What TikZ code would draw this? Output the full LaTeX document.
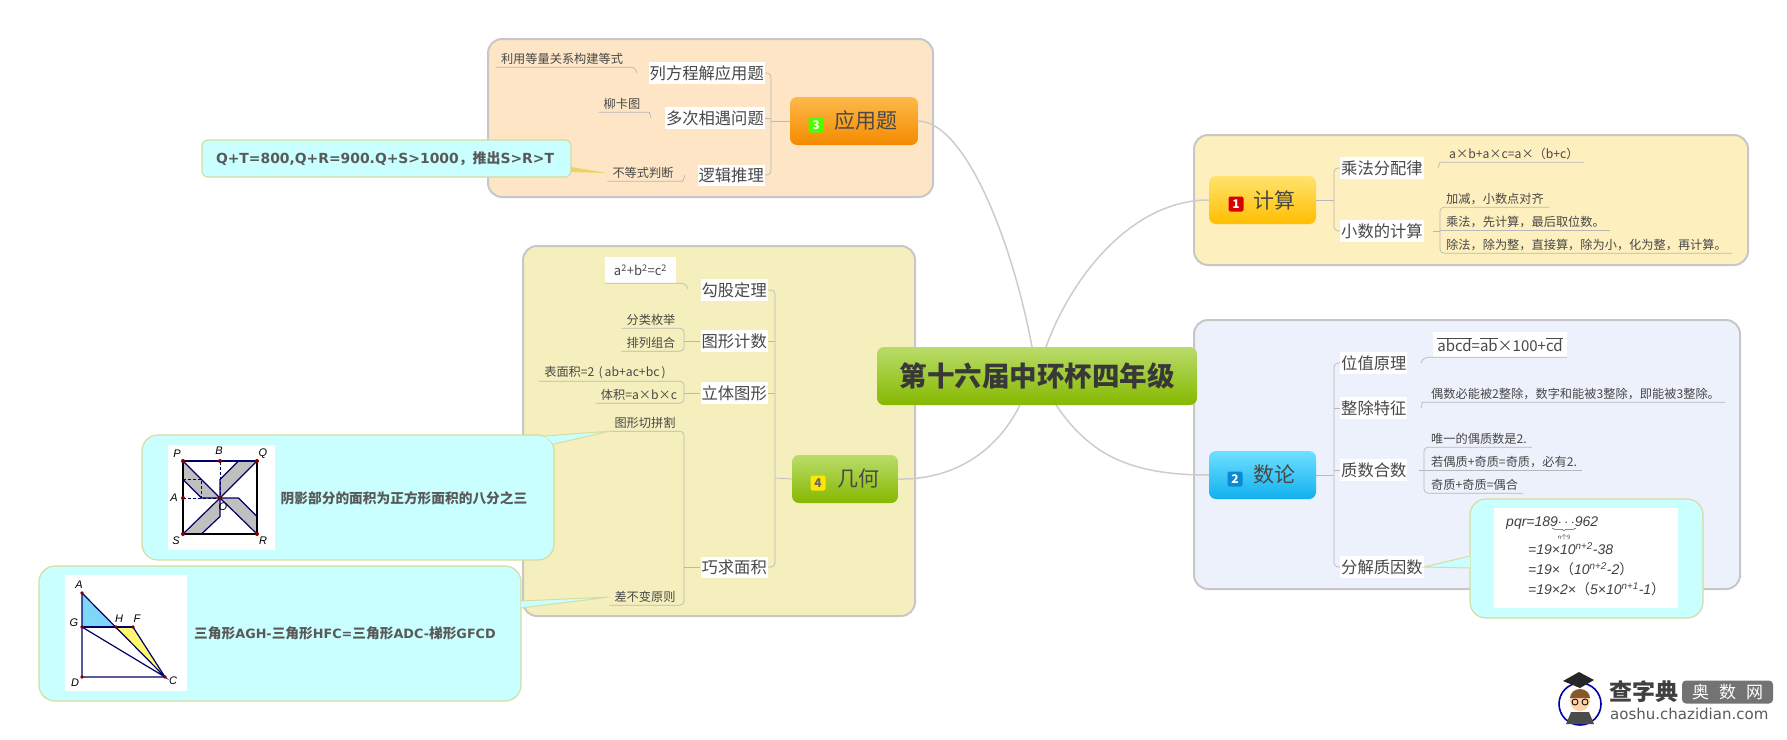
\documentclass[tikz,border=0pt]{standalone}
\usepackage{fontspec}
\setmainfont{Noto Sans CJK SC}
\newfontfamily\dvfont{DejaVu Sans}
\newfontfamily\libfont{Liberation Sans}
\usetikzlibrary{positioning,decorations.pathreplacing}
\definecolor{zoneApp}{HTML}{FDE5C6}
\definecolor{zoneGeo}{HTML}{F5EFBD}
\definecolor{zoneCalc}{HTML}{FDEFBE}
\definecolor{zoneNum}{HTML}{EDF1FC}
\definecolor{noteFill}{HTML}{C9FFFE}
\definecolor{noteLine}{HTML}{D5DDA0}
\definecolor{inkA}{HTML}{484848}
\definecolor{greenTop}{HTML}{B9DC6A}
\definecolor{greenBot}{HTML}{86B800}
\definecolor{goldTop}{HTML}{FFE36E}
\definecolor{goldBot}{HTML}{FFBE00}
\definecolor{orngTop}{HTML}{FDB94A}
\definecolor{orngBot}{HTML}{F58A00}
\definecolor{blueTop}{HTML}{6FE0FF}
\definecolor{blueBot}{HTML}{10B0EE}
\newcommand{\sz}[1]{\fontsize{#1}{#1}\selectfont}
\tikzstyle{zone}=[rounded corners=14pt,draw=black!22,line width=2pt,inner sep=0pt]
\tikzstyle{note}=[rounded corners=16pt,draw=noteLine,fill=noteFill,line width=1.2pt,inner sep=0pt]
\tikzstyle{topic}=[rounded corners=7pt,inner sep=0pt,text=inkA,font=\sz{21}]
\tikzstyle{sub}=[fill=white,inner xsep=1pt,inner ysep=3pt,text=inkA,font=\sz{16.3}]
\tikzstyle{leaf}=[inner xsep=5pt,inner ysep=0pt,minimum height=16pt,text=inkA,font=\sz{12.2}]
\tikzstyle{badge}=[rounded corners=2pt,minimum size=15pt,inner sep=0pt,font=\sz{12}\bfseries]
\tikzstyle{limb}=[draw=black!20,line width=1.5pt]
\tikzstyle{twig}=[draw=black!28,line width=.7pt,rounded corners=4pt]
\tikzstyle{tail}=[draw=noteLine,fill=noteFill,line width=1pt]
\tikzstyle{noteText}=[inner sep=0pt,text=black!65,font=\sz{13.7}\bfseries]
\tikzstyle{figLab}=[inner sep=0pt,font=\sz{11}\itshape\libfont]
\tikzstyle{figLine}=[draw=blue!40!black,line width=1.2pt]
\tikzstyle{formula}=[inner sep=0pt,anchor=west,text=black!75,font=\sz{14}\itshape\libfont]
\begin{document}
\begin{tikzpicture}[x=1pt,y=-1pt]
\useasboundingbox (0,0) rectangle (1787,739);
% zones
\node[zone,fill=zoneApp,minimum width=445pt,minimum height=158pt] (zoneA) at (710.5,118) {};
\node[zone,fill=zoneGeo,minimum width=392pt,minimum height=370pt] (zoneG) at (719,431) {};
\node[zone,fill=zoneCalc,minimum width=554pt,minimum height=130pt] (zoneC) at (1471,200) {};
\node[zone,fill=zoneNum,minimum width=546pt,minimum height=269pt] (zoneN) at (1467,454.5) {};
% centre and main topics
\coordinate (inA) at (1032,347);
\coordinate (inC) at (1046,347);
\coordinate (inG) at (1020,405);
\coordinate (inN) at (1056,405);
\node[topic,top color=orngTop,bottom color=orngBot,minimum width=128pt,minimum height=48pt] (app) at (854,121) {\hspace{23pt}应用题};
\node[topic,top color=greenTop,bottom color=greenBot,minimum width=106pt,minimum height=48pt] (geo) at (845,479) {\hspace{26pt}几何};
\node[topic,top color=goldTop,bottom color=goldBot,minimum width=107pt,minimum height=48pt] (calc) at (1262.5,200) {\hspace{23pt}计算};
\node[topic,top color=blueTop,bottom color=blueBot,minimum width=107pt,minimum height=48pt] (num) at (1262.5,475) {\hspace{23pt}数论};
\draw[limb] (app.east) .. controls (965,122) and (1012,240) .. (inA);
\draw[limb] (calc.west) .. controls (1130,200) and (1070,280) .. (inC);
\draw[limb] (geo.east) .. controls (950,480) and (995,455) .. (inG);
\draw[limb] (num.west) .. controls (1130,475) and (1090,455) .. (inN);
\node[topic,font=\sz{27.5}\bfseries,text=black!78,top color=greenTop,bottom color=greenBot,minimum width=320pt,minimum height=58pt] (root) at (1037,376) {第十六届中环杯四年级};
\node[badge,fill=green!70!yellow,text=white] (bA) at (816,125) {3};
\node[badge,fill=yellow!90!orange,text=black!60] (bG) at (818,483) {4};
\node[badge,fill=red!85!black,text=white] (bC) at (1236,204) {1};
\node[badge,fill=cyan!70!blue,text=white] (bN) at (1235,479) {2};
% application
\node[sub,anchor=east] (eqn) at (765,73) {列方程解应用题};
\node[sub,anchor=east] (meet) at (765,118) {多次相遇问题};
\node[sub,anchor=east] (logic) at (765,175) {逻辑推理};
\coordinate (spA) at (771,121);
\draw[twig] (eqn.east) -- (eqn.east -| spA) -- (logic.east -| spA) -- (logic.east);
\draw[twig] (meet.east) -- (meet.east -| spA);
\draw[twig] (spA) -- (app.west);
\node[leaf] (eqnA) at (562,59) {利用等量关系构建等式};
\node[leaf] (meetA) at (622,104) {柳卡图};
\node[leaf] (logicA) at (643,173) {不等式判断};
\coordinate (kEqn) at (637,73);
\coordinate (kMeet) at (651,118);
\coordinate (kLogic) at (685,175);
\draw[twig] (eqnA.south west) -- (eqnA.south east) to[out=0,in=100] (kEqn);
\draw[twig] (meetA.south west) -- (meetA.south east) to[out=0,in=100] (kMeet);
\draw[twig] (logicA.south west) -- (logicA.south east) to[out=0,in=-100] (kLogic);
\node[note,rounded corners=6pt,minimum width=369pt,minimum height=37pt] (noteQ) at (386.5,158.5) {};
\node[noteText,font=\sz{13.9}\bfseries] (noteQt) at (385,158.5) {{\dvfont Q+T=800,Q+R=900.Q+S>1000}，推出{\dvfont S>R>T}};
\coordinate (tailQa) at (571,167);
\coordinate (tailQb) at (571,172);
\fill[yellow!55!brown!75] (tailQa) -- (logicA.west) -- (tailQb) -- cycle;
% geometry
\node[sub,anchor=east] (pyth) at (768,290) {勾股定理};
\node[sub,anchor=east] (cnt) at (768,341) {图形计数};
\node[sub,anchor=east] (solid) at (768,393) {立体图形};
\node[sub,anchor=east] (area) at (768,567) {巧求面积};
\coordinate (spG) at (775,478);
\draw[twig] (pyth.east) -- (pyth.east -| spG) -- (area.east -| spG) -- (area.east);
\draw[twig] (cnt.east) -- (cnt.east -| spG);
\draw[twig] (solid.east) -- (solid.east -| spG);
\draw[twig] (spG) -- (geo.west);
\node[fill=white,inner sep=0pt,minimum width=71pt,minimum height=26pt,text=inkA,font=\sz{13}] (pythA) at (640.5,270) {a\textsuperscript{2}+b\textsuperscript{2}=c\textsuperscript{2}};
\coordinate (kPyth) at (688,289);
\draw[twig] (pythA.south west) -- (pythA.south east) to[out=0,in=100] (kPyth);
\node[leaf] (cntA) at (651,320) {分类枚举};
\node[leaf] (cntB) at (651,343) {排列组合};
\coordinate (kCnt) at (684,341);
\draw[twig] (cntA.south west) -- (cntA.south east -| kCnt) -- (cntB.south east -| kCnt) -- (cntB.south west);
\draw[twig] (kCnt) -- (cnt.west);
\node[leaf] (solA) at (605,373) {表面积=2\,\,(\,ab+ac+bc\,)};
\node[leaf] (solB) at (639,395) {体积=a×b×c};
\coordinate (kSol) at (684,393);
\draw[twig] (solA.south west) -- (solA.south east -| kSol) -- (solB.south east -| kSol) -- (solB.south west);
\draw[twig] (kSol) -- (solid.west);
\node[leaf] (cut) at (645,423) {图形切拼割};
\node[leaf] (diff) at (645,597) {差不变原则};
\coordinate (kArea) at (684,567);
\draw[twig] (cut.south west) -- (cut.south east -| kArea) -- (diff.south east -| kArea) -- (diff.south west);
\draw[twig] (kArea) -- (area.west);
% pinwheel note
\node[note,minimum width=412pt,minimum height=125pt] (noteP) at (348,497.5) {};
\coordinate (tailPa) at (545,436);
\coordinate (tailPb) at (554,444);
\draw[tail] (tailPa) -- (cut.south west) -- (tailPb);
\node[fill=white,inner sep=0pt,minimum width=107pt,minimum height=105pt] (figP) at (221.5,497.5) {};
\fill[black!25] (183,461) -- (220,498) -- (201.5,498) -- (183,479.5) -- cycle;
\fill[black!25] (257,461) -- (220,498) -- (220,479.5) -- (238.5,461) -- cycle;
\fill[black!25] (257,534) -- (220,498) -- (238.5,498) -- (257,516.5) -- cycle;
\fill[black!25] (183,534) -- (220,498) -- (220,516.5) -- (201.5,534) -- cycle;
\draw[figLine,densely dashed,line width=.6pt] (183,498) -- (220,498) -- (220,461);
\draw[figLine,densely dashed,line width=.6pt] (183,479.5) -- (201.5,479.5) -- (201.5,498);
\draw[figLine,black] (183,461) rectangle (257,534);
\draw[figLine] (183,461) -- (257,461);
\draw[figLine] (183,461) -- (220,498) -- (201.5,498) -- (183,479.5);
\draw[figLine] (257,461) -- (220,498) -- (220,479.5) -- (238.5,461);
\draw[figLine] (257,534) -- (220,498) -- (238.5,498) -- (257,516.5);
\draw[figLine] (183,534) -- (220,498) -- (220,516.5) -- (201.5,534);
\foreach \px/\py in {183/461,220/461,257/461,183/498,220/498,183/534,257/534}
  \fill[red!50!black] (\px,\py) circle (2pt);
\node[figLab] (labP) at (177,454) {P};
\node[figLab] (labB) at (219,451) {B};
\node[figLab] (labQ) at (263,454) {Q};
\node[figLab] (labA) at (174,498) {A};
\node[figLab] (labO) at (223,507) {O};
\node[figLab] (labS) at (176,541) {S};
\node[figLab] (labR) at (263,541) {R};
\node[noteText] (notePt) at (404,498) {阴影部分的面积为正方形面积的八分之三};
% triangle note
\node[note,minimum width=482pt,minimum height=135pt] (noteT) at (280,633.5) {};
\coordinate (tailTa) at (521,601);
\coordinate (tailTb) at (521,608);
\draw[tail] (tailTa) -- (diff.west) -- (tailTb);
\node[fill=white,inner sep=0pt,minimum width=122pt,minimum height=116pt] (figT) at (126,633) {};
\fill[cyan!50] (82,593) -- (82,627) -- (116,627) -- cycle;
\fill[yellow!55] (116,627) -- (133,627) -- (165,677) -- cycle;
\draw[figLine] (82,593) -- (82,677) -- (165,677) -- (133,627);
\draw[figLine] (82,593) -- (165,677) -- (82,627);
\draw[figLine,line width=2pt] (82,627) -- (133,627);
\foreach \px/\py in {82/593,82/627,116/627,133/627,82/677,165/677}
  \fill[red!50!black] (\px,\py) circle (1.8pt);
\node[figLab] (labTa) at (79,585) {A};
\node[figLab] (labTg) at (74,623) {G};
\node[figLab] (labTh) at (119,619) {H};
\node[figLab] (labTf) at (137,619) {F};
\node[figLab] (labTd) at (75,683) {D};
\node[figLab] (labTc) at (173,681) {C};
\node[noteText] (noteTt) at (345,633) {三角形{\dvfont\sz{12.8}AGH-}三角形{\dvfont\sz{12.8}HFC=}三角形{\dvfont\sz{12.8}ADC-}梯形{\dvfont\sz{12.8}GFCD}};
% calculation
\node[sub,anchor=west] (dist) at (1340,168) {乘法分配律};
\node[sub,anchor=west] (deci) at (1340,231) {小数的计算};
\coordinate (spC) at (1334,200);
\draw[twig] (dist.west) -- (dist.west -| spC) -- (deci.west -| spC) -- (deci.west);
\draw[twig] (calc.east) -- (spC);
\node[leaf,anchor=west] (distA) at (1444,154) {a×b+a×c=a×（b+c）};
\coordinate (kDist) at (1438,168);
\draw[twig] (distA.south east) -- (distA.south west) to[out=180,in=80] (kDist);
\node[leaf,anchor=west] (deciA) at (1441,199) {加减，小数点对齐};
\node[leaf,anchor=west] (deciB) at (1441,222) {乘法，先计算，最后取位数。};
\node[leaf,anchor=west] (deciC) at (1441,245) {除法，除为整，直接算，除为小，化为整，再计算。};
\coordinate (kDeci) at (1440,231);
\draw[twig] (deciA.south east) -- (deciA.south west -| kDeci) -- (deciC.south west -| kDeci) -- (deciC.south east);
\draw[twig] (deciB.south east) -- (deciB.south west -| kDeci);
\draw[twig] (kDeci) -- (1433,231);
% number theory
\node[sub,anchor=west] (place) at (1340,363) {位值原理};
\node[sub,anchor=west] (divi) at (1340,408) {整除特征};
\node[sub,anchor=west] (prime) at (1340,470) {质数合数};
\node[sub,anchor=west] (fact) at (1340,567) {分解质因数};
\coordinate (spN) at (1334,475);
\draw[twig] (place.west) -- (place.west -| spN) -- (fact.west -| spN) -- (fact.west);
\draw[twig] (divi.west) -- (divi.west -| spN);
\draw[twig] (prime.west) -- (prime.west -| spN);
\draw[twig] (num.east) -- (spN);
\node[fill=white,inner sep=0pt,minimum width=134pt,minimum height=25pt,text=inkA,font=\sz{15}] (placeA) at (1500,344.5) {$\overline{\hbox{abcd}}$=$\overline{\hbox{ab}}$×100+$\overline{\hbox{cd}}$};
\coordinate (kPlace) at (1421,363);
\draw[twig] (placeA.south east) -- (placeA.south west) to[out=180,in=80] (kPlace);
\node[leaf,anchor=west] (diviA) at (1426,394) {偶数必能被2整除，数字和能被3整除，即能被3整除。};
\coordinate (kDivi) at (1421,408);
\draw[twig] (diviA.south east) -- (diviA.south west) to[out=180,in=80] (kDivi);
\node[leaf,anchor=west] (primeA) at (1426,439) {唯一的偶质数是2.};
\node[leaf,anchor=west] (primeB) at (1426,462) {若偶质+奇质=奇质，必有2.};
\node[leaf,anchor=west] (primeC) at (1426,485) {奇质+奇质=偶合};
\coordinate (kPrime) at (1424,470);
\draw[twig] (primeA.south east) -- (primeA.south west -| kPrime) -- (primeC.south west -| kPrime) -- (primeC.south east);
\draw[twig] (primeB.south east) -- (primeB.south west -| kPrime);
\draw[twig] (kPrime) -- (1419,470);
\node[note,minimum width=233pt,minimum height=119pt] (noteF) at (1586.5,558.5) {};
\coordinate (tailFa) at (1470,556);
\coordinate (tailFb) at (1470,568);
\draw[tail] (tailFa) -- (fact.east) -- (tailFb);
\node[fill=white,inner sep=0pt,minimum width=184pt,minimum height=100pt] (figF) at (1586,558) {};
\node[formula] (fLineA) at (1506,523) {pqr=189$\cdots$962};
\node[formula] (fLineB) at (1528,549) {=19×10\textsuperscript{n+2}-38};
\node[formula] (fLineC) at (1528,569) {=19×{\rmfamily\upshape （}10\textsuperscript{n+2}-2{\rmfamily\upshape ）}};
\node[formula] (fLineD) at (1528,589) {=19×2×{\rmfamily\upshape （}5×10\textsuperscript{n+1}-1{\rmfamily\upshape ）}};
\draw[decorate,decoration={brace,mirror,amplitude=2.5pt},line width=.5pt,black!70] (1552,528) -- (1576,528);
\node[inner sep=0pt,text=black!70,font=\sz{6}] (fBrace) at (1564,537) {n个9};
% logo
\node[circle,draw=blue!65!black,line width=1.6pt,fill=white,minimum size=42pt,inner sep=0pt] (logoR) at (1580,704) {};
\fill[black!70] (1571,712) -- (1589,712) -- (1594,724) -- (1566,724) -- cycle;
\fill[orange!35!white] (1580,701) circle (10pt);
\fill[brown!70!black] (1570,698) arc (180:0:10pt and 9pt) -- cycle;
\fill[black!85] (1579,672) -- (1594,680) -- (1580,688) -- (1563,681) -- cycle;
\draw[black,line width=.8pt] (1575,702) circle (3pt) (1585,702) circle (3pt);
\node[inner sep=0pt,anchor=west,text=black!75,font=\sz{23}\bfseries] (logoT) at (1609,692) {查字典};
\node[fill=black!55,rounded corners=4pt,inner sep=0pt,minimum width=91pt,minimum height=23pt,text=white,font=\sz{17}] (logoB) at (1727.5,692) {奥\hspace{10pt}数\hspace{10pt}网};
\node[inner sep=0pt,anchor=west,text=black!65,font=\sz{15}\dvfont] (logoU) at (1610,714) {aoshu.chazidian.com};
\end{tikzpicture}
\end{document}
